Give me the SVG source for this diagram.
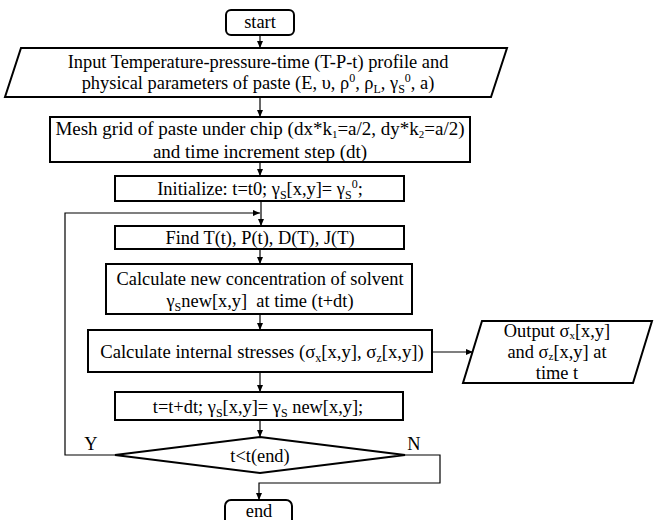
<svg xmlns="http://www.w3.org/2000/svg" width="654" height="520" viewBox="0 0 654 520">
<style>
.s{fill:#fff;stroke:#000;stroke-width:2}
.c{fill:none;stroke:#000;stroke-width:1.2}
text{font-family:"Liberation Serif","Times New Roman",serif;font-size:18.4px;fill:#000;text-anchor:middle}
.sm{font-size:12px}
.xs{font-size:11px}
</style>
<defs>
<marker id="ah" markerWidth="8" markerHeight="8" refX="7" refY="4" orient="auto" markerUnits="userSpaceOnUse">
<path d="M0,1 L7,4 L0,7 Z" fill="#000"/>
</marker>
</defs>
<rect width="654" height="520" fill="#fff"/>
<g id="connectors">
<line class="c" x1="260" y1="35" x2="260" y2="48" marker-end="url(#ah)"/>
<line class="c" x1="260" y1="97" x2="260" y2="117" marker-end="url(#ah)"/>
<line class="c" x1="260" y1="162" x2="260" y2="176" marker-end="url(#ah)"/>
<line class="c" x1="261" y1="201" x2="261" y2="226" marker-end="url(#ah)"/>
<polyline class="c" points="115,455 65,455 65,213 260,213" marker-end="url(#ah)"/>
<line class="c" x1="260" y1="249" x2="260" y2="264" marker-end="url(#ah)"/>
<line class="c" x1="260" y1="314" x2="260" y2="330" marker-end="url(#ah)"/>
<line class="c" x1="432" y1="352" x2="473" y2="352" marker-end="url(#ah)"/>
<line class="c" x1="260" y1="372" x2="260" y2="392" marker-end="url(#ah)"/>
<line class="c" x1="260" y1="420" x2="260" y2="437" marker-end="url(#ah)"/>
<polyline class="c" points="405,455 440,455 440,483 259,483 259,500" marker-end="url(#ah)"/>
</g>
<g id="start">
<rect class="s" x="226" y="10" width="68" height="25" rx="5"/>
<text x="260" y="28">start</text>
</g>
<g id="input">
<polygon class="s" points="21,48 507,48 491,97 5,97"/>
<text x="258" y="68">Input Temperature-pressure-time (T-P-t) profile and</text>
<text x="258" y="89">physical parameters of paste (E, υ, ρ<tspan class="sm" dy="-7">0</tspan><tspan dy="7">, ρ</tspan><tspan class="sm" dy="4">L</tspan><tspan dy="-4">, γ</tspan><tspan class="sm" dy="4">S</tspan><tspan class="sm" dy="-11">0</tspan><tspan dy="7">, a)</tspan></text>
</g>
<g id="mesh">
<rect class="s" x="50" y="117" width="420" height="45"/>
<text x="260" y="135" style="font-size:19px">Mesh grid of paste under chip (dx*k<tspan class="xs" dy="3">1</tspan><tspan dy="-3">=a/2, dy*k</tspan><tspan class="xs" dy="3">2</tspan><tspan dy="-3">=a/2)</tspan></text>
<text x="260" y="158" style="font-size:19px">and time increment step (dt)</text>
</g>
<g id="init">
<rect class="s" x="115" y="176" width="289" height="25"/>
<text x="260" y="195">Initialize: t=t0; γ<tspan class="sm" dy="4">S</tspan><tspan dy="-4">[x,y]= γ</tspan><tspan class="sm" dy="4">S</tspan><tspan class="sm" dy="-11">0</tspan><tspan dy="7">;</tspan></text>
</g>
<g id="find">
<rect class="s" x="115" y="226" width="289" height="23"/>
<text x="260" y="244">Find T(t), P(t), D(T), J(T)</text>
</g>
<g id="calcnew">
<rect class="s" x="106" y="264" width="306" height="50"/>
<text x="260" y="285">Calculate new concentration of solvent</text>
<text x="260" y="307" xml:space="preserve">γ<tspan class="sm" dy="4">S</tspan><tspan dy="-4">new[x,y]  at time (t+dt)</tspan></text>
</g>
<g id="stress">
<rect class="s" x="88" y="330" width="344" height="42"/>
<text x="262" y="358" style="font-size:18.7px">Calculate internal stresses (σ<tspan class="sm" dy="4">x</tspan><tspan dy="-4">[x,y], σ</tspan><tspan class="sm" dy="4">z</tspan><tspan dy="-4">[x,y])</tspan></text>
</g>
<g id="output">
<polygon class="s" points="482,321 652,321 633,383 463,383"/>
<text x="557" y="337">Output σ<tspan class="xs" dy="2">x</tspan><tspan dy="-2">[x,y]</tspan></text>
<text x="557" y="358">and σ<tspan class="xs" dy="2">z</tspan><tspan dy="-2">[x,y] at</tspan></text>
<text x="557" y="379">time t</text>
</g>
<g id="update">
<rect class="s" x="115" y="392" width="288" height="28"/>
<text x="258" y="413">t=t+dt; γ<tspan class="sm" dy="4">S</tspan><tspan dy="-4">[x,y]= γ</tspan><tspan class="sm" dy="4">S</tspan><tspan dy="-4"> new[x,y];</tspan></text>
</g>
<g id="decision">
<polygon class="s" points="260,437 405,455 260,473 115,455"/>
<text x="260" y="462">t&lt;t(end)</text>
<text x="91" y="450">Y</text>
<text x="414" y="450">N</text>
</g>
<g id="end">
<rect class="s" x="225" y="500" width="67" height="30" rx="6"/>
<text x="259" y="517">end</text>
</g>
</svg>
